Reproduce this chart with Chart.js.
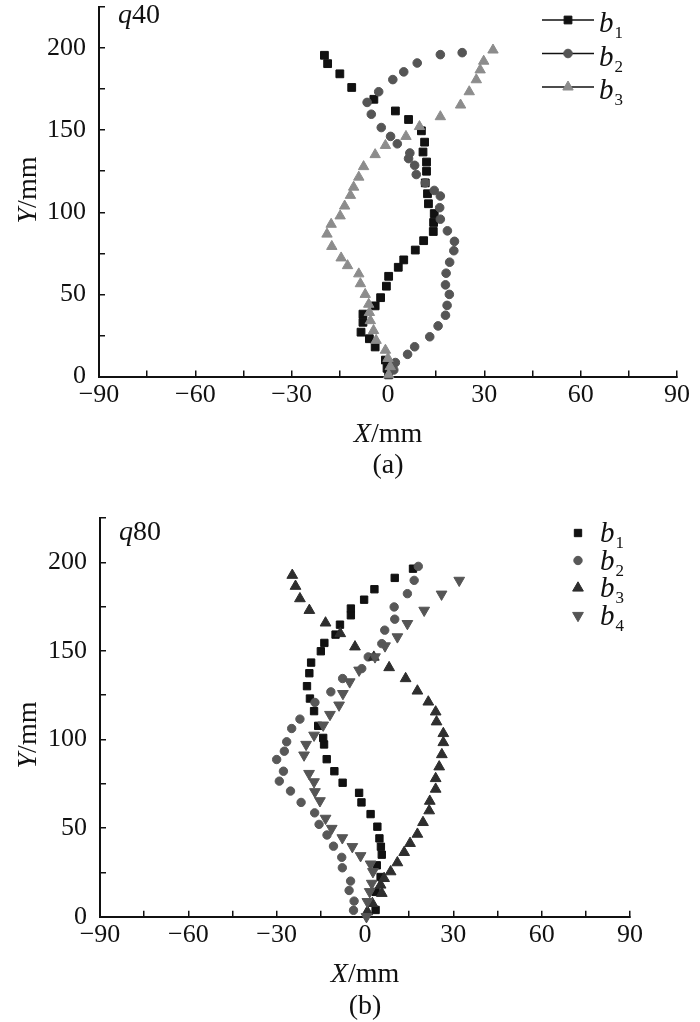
<!DOCTYPE html>
<html>
<head>
<meta charset="utf-8">
<script src="https://cdn.jsdelivr.net/npm/chart.js@4/dist/chart.umd.min.js"></script>
<style>
  html, body { margin: 0; padding: 0; background: #fff; }
  #wrap { position: relative; width: 700px; height: 1022px; overflow: hidden; }
  canvas { position: absolute; left: 0; }
</style>
</head>
<body>
<div id="wrap">
  <canvas id="chartA" width="700" height="500" style="top:0"></canvas>
  <canvas id="chartB" width="700" height="522" style="top:500px"></canvas>
</div>
<script>
// tick labels (a mark every 15 mm on X and every 25 mm on Y, only these are written)
const xTickLabels = [-90, -60, -30, 0, 30, 60, 90];
const yTickLabels = [0, 50, 100, 150, 200];
const seriesNames = ['b1', 'b2', 'b3', 'b4'];

// panel (a) q40, points as [X mm, Y mm]
const q40B1 = [[0.2,1],[-0.3,5],[-0.8,10],[-4.0,18],[-5.8,23],[-8.4,27],[-7.8,33],[-7.8,38],[-4.0,43],[-2.3,48],
  [-0.5,55],[0.2,61],[3.2,66.5],[4.9,71],[8.5,77],[11.1,82.7],[14.1,88.3],[14.2,93.8],[14.4,99.2],[12.6,105.2],
  [12.3,111.3],[11.6,117.9],[12.0,125],[12.0,130.6],[10.9,136.7],[11.4,142.7],[10.4,149.6],[6.4,156.5],[2.3,161.7],
  [-4.4,168.8],[-11.3,176],[-15.0,184.3],[-18.8,190.5],[-19.8,195.6]];
const q40B2 = [[1.8,4],[2.3,8.5],[6.1,13.5],[8.3,18.1],[13.0,24.2],[15.6,30.8],[17.9,37.3],[18.4,43.3],[19.1,50],
  [17.9,55.8],[18.1,62.9],[19.2,69.6],[20.5,76.6],[20.7,82.3],[18.5,88.7],[16.3,95.8],[16.1,102.8],[16.3,109.9],
  [14.4,113.3],[11.6,117.9],[8.8,123],[8.3,128.6],[6.4,132.7],[6.8,136.1],[2.9,141.7],[0.8,146.2],[-2.1,151.6],
  [-5.2,159.7],[-6.5,166.9],[-2.9,173.4],[1.5,180.8],[4.9,185.5],[9.1,190.9],[16.3,196],[23.1,197.2]];
const q40B3 = [[0.2,1],[0.7,6],[0,11],[-0.8,16],[-3.7,22],[-4.5,28],[-5.5,34],[-5.8,39],[-6.0,44],[-7.1,50],
  [-8.6,56.5],[-9.1,62.5],[-12.6,67.5],[-14.6,72.2],[-17.5,79.2],[-19.0,86.7],[-17.7,92.7],[-14.9,97.8],[-13.5,103.8],
  [-11.7,110.3],[-10.7,115.3],[-9.1,121.4],[-7.6,127.8],[-4.0,135.1],[-0.8,140.7],[5.6,146.2],[9.8,152.2],
  [16.3,158.2],[22.6,165.3],[25.3,173.4],[27.5,180.7],[28.7,186.7],[29.8,192],[32.7,198.8]];

// panel (b) q80
const q80B1 = [[3.6,3.8],[3.6,14],[5.3,22.4],[4.0,29],[5.7,35],[5.4,39.5],[4.9,44.2],[4.2,50.8],[1.9,57.9],
  [-1.2,64.5],[-2.0,69.9],[-7.6,75.6],[-10.4,82.1],[-13.0,88.9],[-13.9,97.2],[-14.2,100.9],[-15.9,107.7],[-17.3,116],
  [-18.7,123.1],[-19.7,130.1],[-18.9,137.4],[-18.3,143.4],[-15,149.8],[-13.8,154.5],[-10,159.2],[-8.5,164.8],
  [-4.8,170.1],[-4.8,173.9],[-0.3,178.9],[3.2,184.8],[10.1,191.2],[16.3,196.4]];
const q80B2 = [[-3.9,3.6],[-3.7,8.8],[-5.4,14.8],[-4.9,20.1],[-7.7,27.6],[-7.9,33.5],[-10.7,39.8],[-12.9,46.1],
  [-15.6,52.1],[-17.1,58.6],[-21.7,64.5],[-25.3,70.9],[-29.1,76.5],[-27.7,82.1],[-30.0,88.7],[-27.4,93.4],
  [-26.6,98.7],[-24.9,106.2],[-22.1,111.5],[-17.0,120.9],[-11.6,126.9],[-7.6,134.4],[-1.1,140],[1.1,146.6],
  [5.7,154.1],[6.7,161.7],[10.1,167.9],[9.9,174.8],[14.4,182.3],[16.7,189.8],[18.1,197.7]];
const q80B3 = [[0.8,2.8],[2.5,7.5],[5.7,13.2],[5.3,17.9],[6.5,21.6],[8.7,25.4],[11.0,30.5],[13.3,36.3],[15.3,41.4],
  [17.8,46.6],[19.7,53.2],[21.8,59.8],[22.0,65.2],[24.0,72],[24.0,78],[25.2,84.6],[26.1,91.5],[26.6,98.3],
  [26.6,103.4],[24.3,110],[24.0,115.6],[21.5,121.2],[17.8,127.4],[13.8,134.4],[8.2,140.6],[3.0,146.5],
  [-3.4,152.3],[-8.4,159.8],[-13.4,165.8],[-18.9,172.9],[-22.1,179.5],[-23.6,186.5],[-24.7,192.7]];
const q80B4 = [[0.5,0],[0.8,8.5],[1.6,14.1],[2.3,18.8],[2.7,25.4],[1.9,29.7],[-1.5,34.4],[-4.3,39.5],[-7.7,44.5],
  [-11.3,49.8],[-13.4,55.5],[-15.3,65.4],[-17.0,70.5],[-17.3,76.1],[-19.0,80.8],[-20.7,91.2],[-20.0,97.2],
  [-17.3,102.4],[-14.2,108.1],[-11.9,114.1],[-8.8,119.4],[-7.5,125.9],[-5.2,132.5],[-2.0,139.1],[3.4,146.6],
  [6.8,152.8],[11.0,157.9],[14.4,165.4],[20.1,172.9],[26.0,182],[32.0,189.8]];

const serif = '"Liberation Serif", "Times New Roman", serif';
const ink = '#111111';
const font = (size, italic) => (italic ? 'italic ' : '') + size + 'px ' + serif;
const toPoints = arr => arr.map(p => ({ x: p[0], y: p[1] }));
const fmt = v => (v < 0 ? '\u2212' + (-v) : String(v));

// writes text pieces one after another, returns the x where it ends
function run(ctx, x, y, parts, align) {
  let total = 0;
  parts.forEach(p => { ctx.font = p[1]; total += ctx.measureText(p[0]).width; });
  let cx = align === 'center' ? x - total / 2 : x;
  parts.forEach(p => {
    ctx.font = p[1];
    ctx.fillText(p[0], cx, y + (p[2] || 0));
    cx += ctx.measureText(p[0]).width;
  });
  return cx;
}

const figureText = {
  id: 'figureText',
  afterDraw(chart, args, o) {
    const ctx = chart.ctx;
    const area = chart.chartArea;
    const midX = (area.left + area.right) / 2;
    ctx.save();
    ctx.fillStyle = ink;
    ctx.textBaseline = 'alphabetic';

    // panel tag (q40 / q80)
    run(ctx, area.left + 19, o.tagBase, [['q', font(28, true)], [o.tag, font(28)]], 'left');

    // axis titles and caption
    run(ctx, midX, o.xTitleBase, [['X', font(28, true)], ['/mm', font(28)]], 'center');
    run(ctx, midX, o.captionBase, [[o.caption, font(28)]], 'center');
    ctx.save();
    ctx.translate(o.yTitleX, o.yTitleY);
    ctx.rotate(-Math.PI / 2);
    run(ctx, 0, 9, [['Y', font(28, true)], ['/mm', font(28)]], 'center');
    ctx.restore();

    // legend
    chart.data.datasets.forEach((ds, i) => {
      const y = o.legendY + i * o.legendGap;
      if (o.legendLine) {
        ctx.strokeStyle = ink;
        ctx.lineWidth = 1.5;
        ctx.beginPath();
        ctx.moveTo(o.legendX - 26, y);
        ctx.lineTo(o.legendX + 26, y);
        ctx.stroke();
      }
      ctx.fillStyle = ds.backgroundColor;
      ctx.strokeStyle = ds.borderColor;
      ctx.lineWidth = ds.borderWidth;
      Chart.helpers.drawPoint(ctx, {
        pointStyle: ds.pointStyle, radius: ds.pointRadius,
        rotation: ds.pointRotation || 0, borderWidth: ds.borderWidth
      }, o.legendX, y);
      ctx.fillStyle = ink;
      const end = run(ctx, o.legendTextX, y + o.legendTextDy, [[ds.label[0], font(29, true)]], 'left');
      run(ctx, end + 1, y + o.legendTextDy + 6, [[ds.label.slice(1), font(17)]], 'left');
    });
    ctx.restore();
  }
};

function makeChart(id, datasets, geo, text) {
  const tickLine = { drawOnChartArea: false, tickLength: -6, color: ink, lineWidth: 1.5 };
  const border = { display: true, color: ink, width: 2 };
  return new Chart(document.getElementById(id), {
    type: 'scatter',
    data: { datasets: datasets },
    options: {
      responsive: false,
      animation: false,
      devicePixelRatio: 1,
      events: [],
      layout: { padding: { top: geo.top, right: geo.right, left: 0, bottom: 0 } },
      plugins: { legend: { display: false }, tooltip: { enabled: false }, figureText: text },
      scales: {
        x: {
          type: 'linear', position: 'bottom', min: -90, max: 90,
          grid: tickLine, border: border,
          ticks: {
            stepSize: 15, autoSkip: false, maxRotation: 0, padding: 9, color: ink,
            font: { family: serif, size: 26 },
            callback: v => (xTickLabels.includes(v) ? fmt(v) : '')
          },
          afterFit: s => { s.height = geo.xHeight; s.paddingLeft = 0; s.paddingRight = 0; }
        },
        y: {
          type: 'linear', position: 'left', min: 0, max: 225,
          grid: tickLine, border: border,
          ticks: {
            stepSize: 25, autoSkip: false, padding: 19, color: ink,
            font: { family: serif, size: 26 },
            callback: v => (yTickLabels.includes(v) ? fmt(v) : '')
          },
          afterFit: s => { s.width = geo.yWidth; s.paddingTop = 0; s.paddingBottom = 0; }
        }
      }
    },
    plugins: [figureText]
  });
}

function series(label, arr, color, style, radius, order, rotation) {
  return {
    label: label, data: toPoints(arr), pointStyle: style, pointRadius: radius,
    pointRotation: rotation || 0, backgroundColor: color, borderColor: color, borderWidth: 1,
    showLine: false, clip: false, order: order
  };
}

makeChart('chartA', [
  series(seriesNames[0], q40B1, '#111111', 'rect', 5.5, 3),
  series(seriesNames[1], q40B2, '#555555', 'circle', 4.3, 2),
  series(seriesNames[2], q40B3, '#8c8c8c', 'triangle', 6, 1)
], { top: 5, right: 23, xHeight: 123.5, yWidth: 99 }, {
  tag: '40', tagBase: 23, caption: '(a)', xTitleBase: 442, captionBase: 473,
  yTitleX: 27, yTitleY: 190,
  legendX: 568, legendY: 20, legendGap: 33.5, legendLine: true, legendTextX: 599, legendTextDy: 12
});

makeChart('chartB', [
  series(seriesNames[0], q80B1, '#111111', 'rect', 5.2, 4),
  series(seriesNames[1], q80B2, '#585858', 'circle', 4.2, 3),
  series(seriesNames[2], q80B3, '#2e2e2e', 'triangle', 6.2, 2),
  series(seriesNames[3], q80B4, '#555555', 'triangle', 6.2, 1, 180)
], { top: 18, right: 70, xHeight: 105.3, yWidth: 100 }, {
  tag: '80', tagBase: 40, caption: '(b)', xTitleBase: 482, captionBase: 514,
  yTitleX: 27, yTitleY: 235,
  legendX: 578, legendY: 33, legendGap: 27.5, legendLine: false, legendTextX: 600, legendTextDy: 9
});
</script>
</body>
</html>
